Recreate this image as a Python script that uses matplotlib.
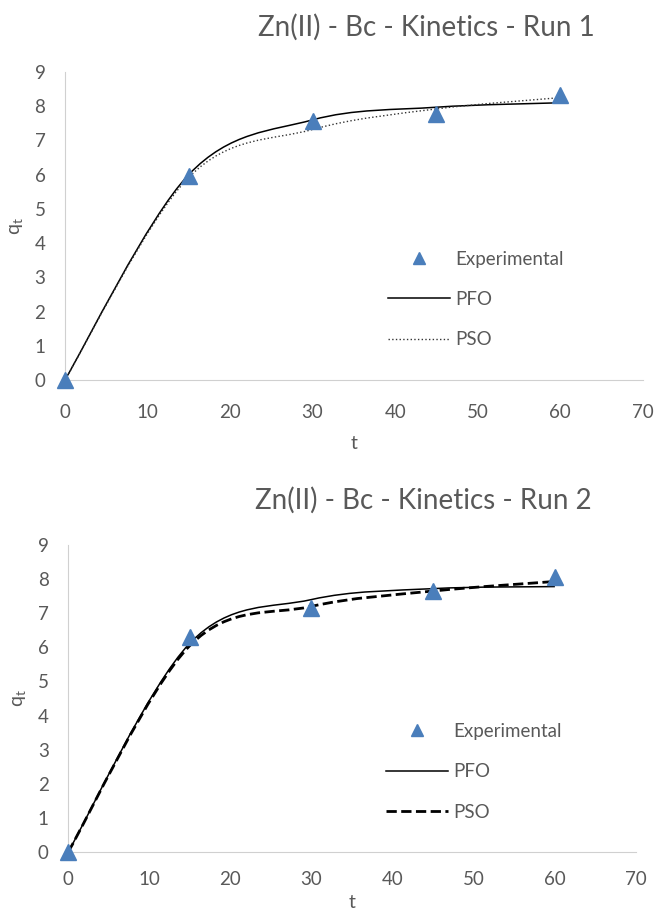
import numpy as np
import matplotlib.pyplot as plt
from matplotlib.path import Path
from matplotlib.patches import PathPatch
from matplotlib.lines import Line2D

plt.rcParams['font.family'] = ['Lato', 'DejaVu Sans']

t = [0, 15, 30, 45, 60]

# Run 1
exp1 = [0, 5.97, 7.57, 7.78, 8.33]
pfo1 = [0, 6.0, 7.6, 7.97, 8.1]
pso1 = [0, 5.92, 7.32, 7.92, 8.25]

# Run 2
exp2 = [0, 6.3, 7.15, 7.65, 8.07]
pfo2 = [0, 6.12, 7.4, 7.72, 7.78]
pso2 = [0, 6.05, 7.2, 7.65, 7.93]

titles = ['Zn(II) - Bc - Kinetics - Run 1', 'Zn(II) - Bc - Kinetics - Run 2']

grey = '#595959'
blue = '#4a7ebb'


def smooth_path(x, y):
    # excel-like smoothed line: cubic bezier segments through the points
    x = np.asarray(x, float)
    y = np.asarray(y, float)
    n = len(x)
    verts = [(x[0], y[0])]
    codes = [Path.MOVETO]
    for i in range(n - 1):
        i0 = max(i - 1, 0)
        i3 = min(i + 2, n - 1)
        c1 = (x[i] + (x[i + 1] - x[i0]) / 6, y[i] + (y[i + 1] - y[i0]) / 6)
        c2 = (x[i + 1] - (x[i3] - x[i]) / 6, y[i + 1] - (y[i3] - y[i]) / 6)
        verts += [c1, c2, (x[i + 1], y[i + 1])]
        codes += [Path.CURVE4] * 3
    return Path(verts, codes)


fig = plt.figure(figsize=(6.55, 9.19), dpi=100)
ax1 = fig.add_axes([0.099, 0.5865, 0.8825, 0.3352])
ax2 = fig.add_axes([0.104, 0.0729, 0.867, 0.3341])

runs = [(ax1, exp1, pfo1, pso1, ':', 1.0, '#333333', 17, 10),
        (ax2, exp2, pfo2, pso2, '--', 2.0, 'black', 14, 4)]

for k, (ax, ex, pf, ps, pls, plw, pcol, xpad, lpad) in enumerate(runs):
    ax.add_patch(PathPatch(smooth_path(t, pf), fill=False, edgecolor='black', lw=1.1))
    ax.add_patch(PathPatch(smooth_path(t, ps), fill=False, edgecolor=pcol, lw=plw, linestyle=pls))
    ax.plot(t, ex, linestyle='none', marker='^', ms=11, color=blue, clip_on=False, zorder=5)

    ax.set_xlim(0, 70)
    ax.set_ylim(0, 9)
    ax.set_xticks(range(0, 71, 10))
    ax.set_yticks(range(0, 10))
    ax.tick_params(length=0, labelsize=13.5, labelcolor=grey)
    ax.tick_params(axis='x', pad=xpad)
    ax.tick_params(axis='y', pad=14)
    for s in ['top', 'right']:
        ax.spines[s].set_visible(False)
    for s in ['left', 'bottom']:
        ax.spines[s].set_color('#d0d0d0')
    ax.set_xlabel('t', fontsize=14, color=grey, labelpad=lpad)
    ax.set_ylabel('q$_\\mathregular{t}$', fontsize=14, color=grey, labelpad=6)
    ax.set_title(titles[k], fontsize=20, color=grey, x=0.625, pad=26)

    handles = [Line2D([], [], linestyle='none', marker='^', ms=9, color=blue),
               Line2D([], [], color='black', lw=1.1),
               Line2D([], [], color=pcol, lw=plw, linestyle=pls)]
    ax.legend(handles, ['Experimental', 'PFO', 'PSO'], loc='upper left',
              bbox_to_anchor=(0.53, 0.475), frameon=False, fontsize=13.5,
              handlelength=3.3, labelspacing=1.25, handletextpad=0.3,
              labelcolor=grey)

fig.savefig('out.png', dpi=100)
